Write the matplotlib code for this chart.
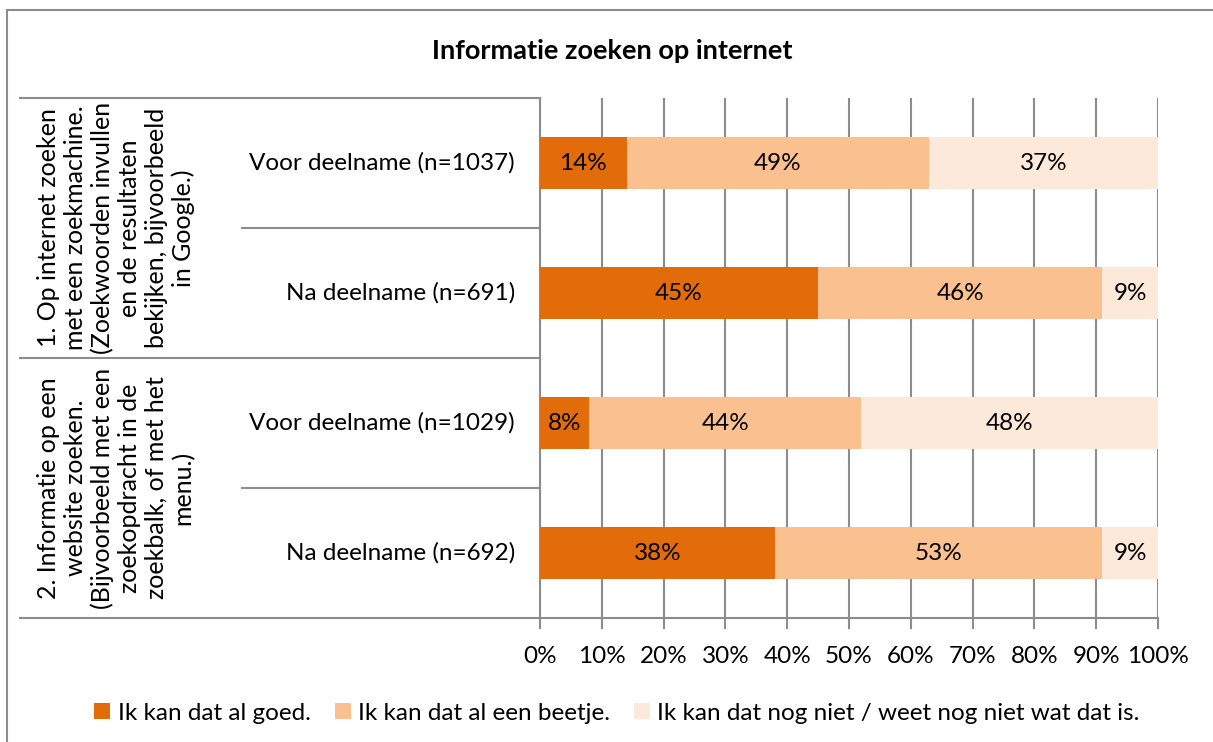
import matplotlib.pyplot as plt
import matplotlib.patches as mpatches
import numpy as np

plt.rcParams['font.family'] = ['Lato', 'DejaVu Sans']

# data
title = "Informatie zoeken op internet"
groups = [
    "1. Op internet zoeken\nmet een zoekmachine.\n(Zoekwoorden invullen\nen de resultaten\nbekijken, bijvoorbeeld\nin Google.)",
    "2. Informatie op een\nwebsite zoeken.\n(Bijvoorbeeld met een\nzoekopdracht in de\nzoekbalk, of met het\nmenu.)",
]
rows = ["Voor deelname (n=1037)", "Na deelname (n=691)",
        "Voor deelname (n=1029)", "Na deelname (n=692)"]
goed = [14, 45, 8, 38]
beetje = [49, 46, 44, 53]
niet = [37, 9, 48, 9]
series_names = ["Ik kan dat al goed.", "Ik kan dat al een beetje.",
                "Ik kan dat nog niet / weet nog niet wat dat is."]
colors = ["#E36C0A", "#FAC090", "#FDE9D9"]

fs = 17.5
grid_col = "#8C8C8C"
W, H = 1213, 742
fig = plt.figure(figsize=(W / 100, H / 100), dpi=100)
ax = fig.add_axes([540 / W, 1 - 618 / H, 618 / W, 520 / H])

y = np.arange(len(rows)) + 0.5
left = np.zeros(len(rows))
for vals, col, name in zip([goed, beetje, niet], colors, series_names):
    vals = np.array(vals, dtype=float)
    ax.barh(y, vals, left=left, height=0.4, color=col, label=name, zorder=3)
    for yi, l, v in zip(y, left, vals):
        ax.text(l + v / 2, yi, f"{int(v)}%", ha="center", va="center",
                fontsize=fs, color="black", zorder=4)
    left += vals

ax.set_xlim(0, 100)
ax.set_ylim(4, 0)
ax.set_xticks(np.arange(0, 101, 10))
ax.set_xticklabels([f"{t}%" for t in range(0, 101, 10)], fontsize=fs)
ax.tick_params(axis="x", length=8, width=1.5, color=grid_col, pad=12)
ax.set_yticks([])
ax.grid(axis="x", color=grid_col, linewidth=1.5, zorder=0)
for s in ["top", "right"]:
    ax.spines[s].set_visible(False)
for s in ["left", "bottom"]:
    ax.spines[s].set_color(grid_col)
    ax.spines[s].set_linewidth(1.5)

# table-like category lines
tr = ax.get_yaxis_transform()
x_outer = (20 - 540) / 618
x_inner = (242 - 540) / 618
for yl, xs in [(0, x_outer), (1, x_inner), (2, x_outer), (3, x_inner), (4, x_outer)]:
    ax.plot([xs, 0], [yl, yl], transform=tr, color=grid_col, lw=1.5, clip_on=False)

for yi, r in zip(y, rows):
    ax.text(-25 / 618, yi, r, transform=tr, ha="right", va="center", fontsize=fs)

for gi, g in enumerate(groups):
    ax.text((116 - 540) / 618, 1 + 2 * gi, g, transform=tr, ha="center", va="center",
            rotation=90, fontsize=18, multialignment="center", linespacing=1.2)

fig.text(612 / W, 1 - 51 / H, title, ha="center", va="center",
         fontsize=19.5, fontweight="bold")

fig.legend(loc="center", bbox_to_anchor=(617 / W, 1 - 713 / H), ncol=3, frameon=False,
           fontsize=fs, handlelength=0.65, handleheight=0.65, handletextpad=0.3,
           columnspacing=1.0)

# outer chart border
fig.add_artist(mpatches.Rectangle((7 / W, -0.1), 1.2, 1 - 10 / H + 0.1,
                                  transform=fig.transFigure, fill=False,
                                  edgecolor=grid_col, lw=1.5))

fig.savefig("out.png", dpi=100)
